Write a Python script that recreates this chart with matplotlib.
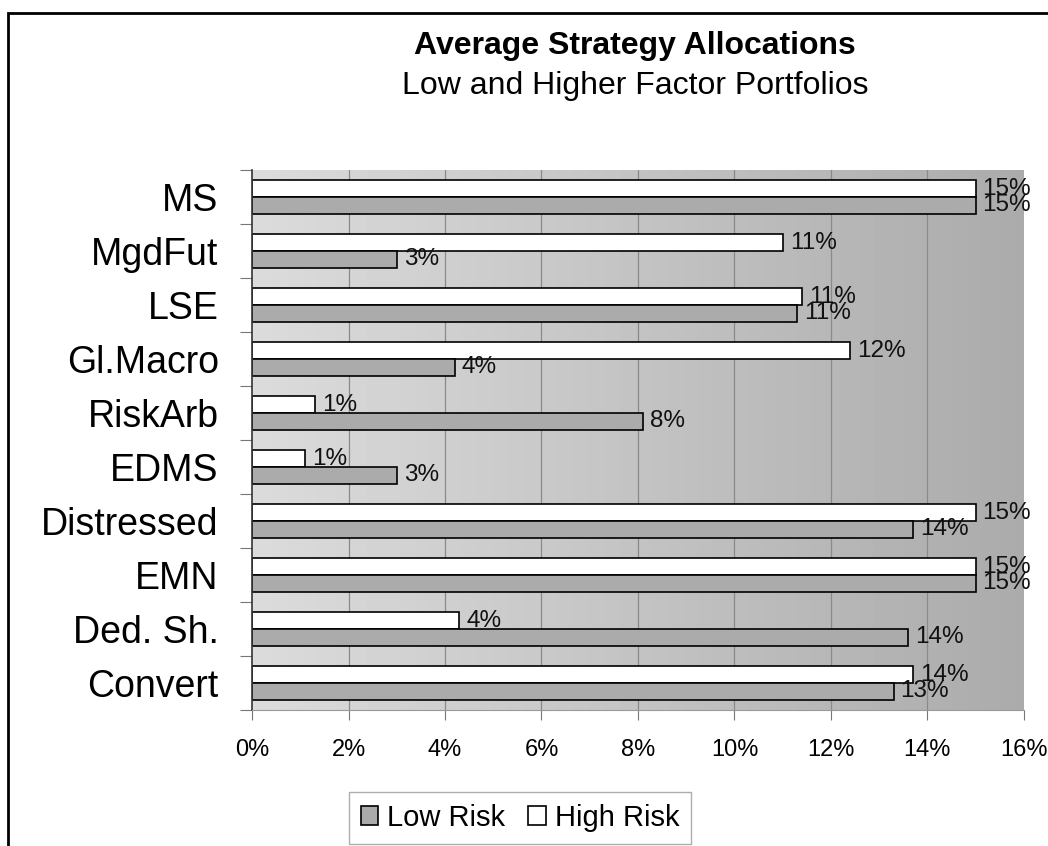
"""
Average strategy allocations for the low and high risk factor portfolios
Horizontal grouped bar chart, saved as out.png
"""

import numpy as np
import matplotlib
matplotlib.use("Agg")
import matplotlib.pyplot as plt
from matplotlib.patches import Rectangle

plt.rcParams['font.family'] = ['Liberation Sans', 'DejaVu Sans']

# Strategies, top to bottom
strategies = ['MS', 'MgdFut', 'LSE', 'Gl.Macro', 'RiskArb', 'EDMS',
              'Distressed', 'EMN', 'Ded. Sh.', 'Convert']

# Average weights in percent
low_risk = [15.0, 3.0, 11.3, 4.2, 8.1, 3.0, 13.7, 15.0, 13.6, 13.3]
high_risk = [15.0, 11.0, 11.4, 12.4, 1.3, 1.1, 15.0, 15.0, 4.3, 13.7]

x_ticks = [0, 2, 4, 6, 8, 10, 12, 14, 16]

LOW_COLOR = '#ababab'
HIGH_COLOR = '#ffffff'


def main():
    fig = plt.figure(figsize=(10.48, 8.46), dpi=100, facecolor='white')
    ax = fig.add_axes([0.2405, 0.1608, 0.7365, 0.6382])

    n = len(strategies)
    pos = np.arange(n)
    h = 0.31

    # plot area: light grey on the left fading darker to the right
    grad = np.linspace(0.86, 0.67, 256).reshape(1, -1)
    ax.imshow(grad, cmap='gray', vmin=0, vmax=1, aspect='auto',
              extent=[0, 16, n - 0.5, -0.5], zorder=0)

    for x in x_ticks[1:-1]:
        ax.axvline(x, color='#8a8a8a', lw=0.9, zorder=1)

    bars_hi = ax.barh(pos - h / 2, high_risk, height=h, color=HIGH_COLOR,
                      edgecolor='black', lw=1.2, zorder=2, label='High Risk')
    bars_lo = ax.barh(pos + h / 2, low_risk, height=h, color=LOW_COLOR,
                      edgecolor='black', lw=1.2, zorder=2, label='Low Risk')

    for bars, vals in ((bars_hi, high_risk), (bars_lo, low_risk)):
        for b, v in zip(bars, vals):
            ax.annotate(f"{v:.0f}%", (v, b.get_y() + b.get_height() / 2),
                        xytext=(5, 0), textcoords='offset points',
                        ha='left', va='center', fontsize=17.5, color='#111111',
                        zorder=3, annotation_clip=False)

    ax.set_xlim(0, 16)
    ax.set_ylim(n - 0.5, -0.5)

    ax.set_xticks(x_ticks)
    ax.set_xticklabels([f"{t}%" for t in x_ticks], fontsize=17)
    ax.tick_params(axis='x', length=7, width=0.8, color='#777777', pad=14)

    ax.set_yticks(pos)
    ax.set_yticklabels(strategies, fontsize=27)
    ax.tick_params(axis='y', which='major', length=0, pad=24)
    ax.set_yticks(np.arange(n + 1) - 0.5, minor=True)
    ax.tick_params(axis='y', which='minor', length=9, width=0.8, color='#777777')

    for side in ('top', 'right'):
        ax.spines[side].set_visible(False)
    ax.spines['left'].set_color('#333333')
    ax.spines['left'].set_linewidth(1.2)
    ax.spines['bottom'].set_color('#999999')

    fig.text(635 / 1048, 1 - 46 / 846, 'Average Strategy Allocations',
             ha='center', va='center', fontsize=23, fontweight='bold')
    fig.text(635 / 1048, 1 - 86 / 846, 'Low and Higher Factor Portfolios',
             ha='center', va='center', fontsize=23)

    handles = [bars_lo, bars_hi]
    fig.legend(handles, ['Low Risk', 'High Risk'], loc='center',
               bbox_to_anchor=(520 / 1048, 1 - 818 / 846), ncol=2,
               fontsize=21, frameon=True, fancybox=False, edgecolor='#999999',
               handlelength=0.6, handleheight=0.6, handletextpad=0.3,
               columnspacing=0.8, borderpad=0.4)

    # chart border
    fig.add_artist(Rectangle((8 / 1048, -0.02), 1.05, 0.02 + 1 - 13 / 846,
                             transform=fig.transFigure, fill=False,
                             edgecolor='black', lw=2))

    fig.savefig('out.png', dpi=100)


if __name__ == "__main__":
    main()
